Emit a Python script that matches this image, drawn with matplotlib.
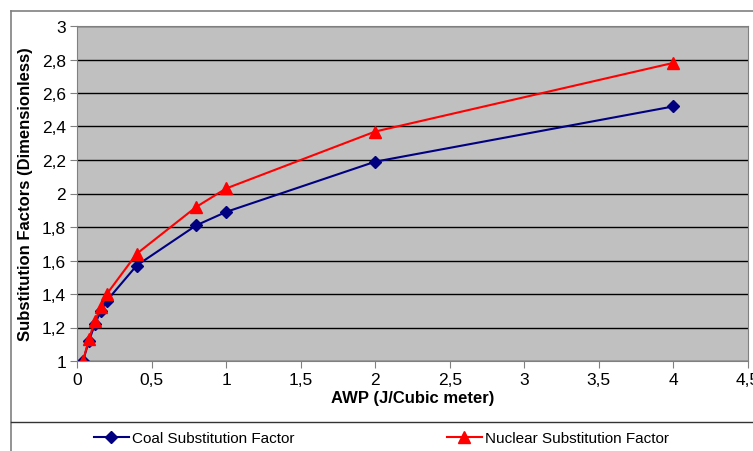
import matplotlib
matplotlib.use("Agg")
import matplotlib.pyplot as plt
from matplotlib.ticker import FuncFormatter, MultipleLocator
from matplotlib.lines import Line2D

# data
awp = [0.04, 0.08, 0.12, 0.16, 0.2, 0.4, 0.8, 1, 2, 4]
coal = [1.0, 1.12, 1.22, 1.30, 1.36, 1.57, 1.81, 1.89, 2.19, 2.52]
nuclear = [1.0, 1.13, 1.24, 1.32, 1.40, 1.64, 1.92, 2.03, 2.37, 2.78]
coal_label = "Coal Substitution Factor"
nuclear_label = "Nuclear Substitution Factor"

plt.rcParams['font.family'] = ['Liberation Sans', 'DejaVu Sans']

W, H = 753, 452
fig = plt.figure(figsize=(W / 100, H / 100), dpi=100)
ax = fig.add_axes([77 / W, 1 - 362 / H, (748 - 77) / W, (362 - 27) / H])
ax.set_facecolor('#c0c0c0')

ax.plot(awp, coal, color='#000080', marker='D', markersize=6, lw=1.5, label=coal_label)
ax.plot(awp, nuclear, color='#ff0000', marker='^', markersize=8, lw=1.5, label=nuclear_label)

ax.set_xlim(0, 4.5)
ax.set_ylim(1, 3)
ax.xaxis.set_major_locator(MultipleLocator(0.5))
ax.yaxis.set_major_locator(MultipleLocator(0.2))
fmt = FuncFormatter(lambda v, p: ('%g' % round(v, 2)).replace('.', ','))
ax.xaxis.set_major_formatter(fmt)
ax.yaxis.set_major_formatter(fmt)
ax.grid(axis='y', color='black', lw=1)
ax.set_axisbelow(True)
for s in ax.spines.values():
    s.set_color('#808080')
ax.tick_params(labelsize=12.5, length=5, color='#808080', pad=3)
for lab in ax.get_xticklabels():
    lab.set_clip_on(False)

ax.set_xlabel("AWP (J/Cubic meter)", fontsize=12, fontweight='bold', labelpad=2)
ax.set_ylabel("Substitution Factors (Dimensionless)", fontsize=12, fontweight='bold', labelpad=6)

# outer chart frame and legend box along the bottom
fc = '#808080'
fig.add_artist(Line2D([11 / W, 1], [1 - 12 / H] * 2, color=fc, lw=1.2))
fig.add_artist(Line2D([11 / W, 11 / W], [0, 1 - 12 / H], color=fc, lw=1.2))
fig.add_artist(Line2D([11 / W, 1], [1 - 423 / H] * 2, color='#333333', lw=1))
h1 = Line2D([], [], color='#000080', marker='D', markersize=6, lw=1.5)
h2 = Line2D([], [], color='#ff0000', marker='^', markersize=8, lw=1.5)
fig.legend([h1], [coal_label], loc='center left', bbox_to_anchor=(80 / W, 1 - 439 / H),
           frameon=False, fontsize=11, handlelength=2.3, handletextpad=0.2)
fig.legend([h2], [nuclear_label], loc='center left', bbox_to_anchor=(433 / W, 1 - 439 / H),
           frameon=False, fontsize=11, handlelength=2.3, handletextpad=0.2)

fig.savefig("out.png", dpi=100)
